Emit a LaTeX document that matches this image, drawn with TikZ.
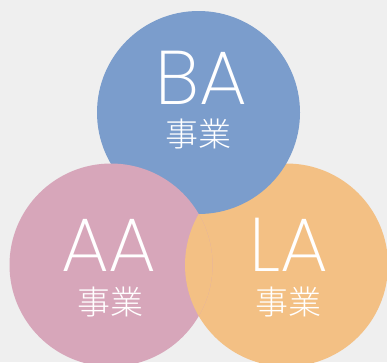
\documentclass[tikz,border=0pt]{standalone}
\usepackage{fontspec}
\newfontfamily\latinlight{Poppins}[UprightFont=* ExtraLight]
\newfontfamily\cjklight{Noto Sans CJK JP Light}
\definecolor{bgc}{HTML}{EFEFEF}
\definecolor{bac}{HTML}{7B9DCC}
\definecolor{aac}{HTML}{D7A6BA}
\definecolor{lac}{HTML}{F3C084}
\tikzset{
  bigtxt/.style={text=white, font=\latinlight\fontsize{76}{76}\selectfont, inner sep=0pt, anchor=base, text height=52pt, text depth=0pt},
  jptxt/.style={text=white, font=\cjklight\fontsize{33}{33}\selectfont, inner sep=0pt, anchor=base, text height=26pt, text depth=2pt},
}
\begin{document}
\begin{tikzpicture}[x=1pt,y=-1pt]
\fill[bgc] (0,0) rectangle (387,362);
\useasboundingbox (0,0) rectangle (387,362);
\fill[lac] (286.5,265) circle (101.5);
\fill[bac] (198.5,112.5) circle (101.5);
\fill[aac] (111,265) circle (101.5);
\begin{scope}
\clip (111,265) circle (101.5);
\fill[lac] (286.5,265) circle (101.5);
\end{scope}
\node[bigtxt] (ba) at (201.5,104) {BA};
\node[jptxt] (baj) at (198,146.5) {事業};
\node[bigtxt] (aa) at (108.7,271) {AA};
\node[jptxt] (aaj) at (110.5,314.5) {事業};
\node[bigtxt] (la) at (288.5,271) {LA};
\node[jptxt] (laj) at (288,314.5) {事業};
\end{tikzpicture}
\end{document}
